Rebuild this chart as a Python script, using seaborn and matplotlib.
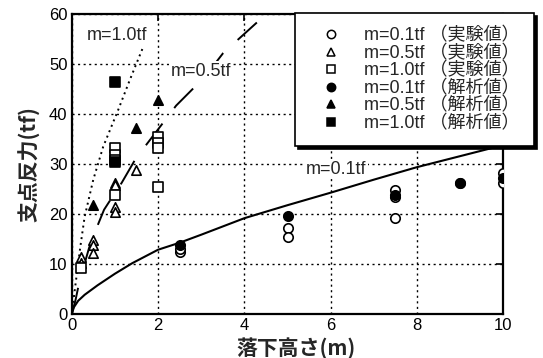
import matplotlib
matplotlib.use("Agg")
import matplotlib.pyplot as plt
from matplotlib.lines import Line2D
import seaborn as sns
import pandas as pd

# ---- data ----
# calculation curves (drop height h [m] -> support reaction P [tf])
curve01_h = [0, 0.05, 0.15, 0.3, 0.6, 1.0, 1.4, 2.0, 2.5, 3.0, 4.0, 5.0, 6.0, 7.0, 8.0, 9.0, 10.0]
curve01_p = [0, 1.4, 2.7, 3.9, 5.8, 8.1, 10.2, 12.9, 14.3, 15.9, 19.2, 21.8, 24.3, 26.9, 29.4, 31.6, 33.8]
curve05_h = [0, 0.09, 0.17, 0.4, 0.56, 0.75, 0.9, 1.16, 1.49, 2.05, 2.42, 3.09, 3.51, 4.29]
curve05_p = [0, 2.9, 6.2, 13.2, 16.9, 20.9, 22.9, 26.3, 31.2, 37.5, 41.7, 47.5, 52.2, 58.3]
curve10_h = [0, 0.1, 0.2, 0.3, 0.5, 0.73, 1.08, 1.35, 1.66]
curve10_p = [0, 6.8, 13.5, 19.5, 26.9, 33.5, 40.9, 46.9, 53.5]

# experimental values
exp01_h = [2.5, 2.5, 5.0, 5.0, 7.5, 7.5, 7.5, 9.0, 10.0, 10.0]
exp01_p = [12.5, 13.1, 17.2, 15.5, 24.9, 23.5, 19.2, 26.3, 28.2, 26.2]
exp05_h = [0.22, 0.22, 0.5, 0.5, 0.5, 1.0, 1.0, 1.0, 1.0, 1.5]
exp05_p = [11.5, 10.2, 14.9, 13.9, 12.2, 26.2, 21.5, 20.5, 25.9, 28.9]
exp10_h = [0.22, 1.0, 1.0, 1.0, 1.0, 2.0, 2.0, 2.0, 2.0]
exp10_p = [9.3, 33.2, 31.9, 30.9, 23.9, 35.5, 34.2, 33.2, 25.5]
# analytical values
ana01_h = [2.5, 5.0, 7.5, 9.0, 10.0]
ana01_p = [13.9, 19.6, 23.9, 26.3, 27.3]
ana05_h = [0.5, 1.5, 2.0]
ana05_p = [21.9, 37.2, 42.9]
ana10_h = [1.0, 1.0]
ana10_p = [46.5, 30.5]

legend_labels = [
    "m=0.1tf （実験値）", "m=0.5tf （実験値）", "m=1.0tf （実験値）",
    "m=0.1tf （解析値）", "m=0.5tf （解析値）", "m=1.0tf （解析値）",
]
curve_labels = ["m=0.1tf", "m=0.5tf", "m=1.0tf"]
x_ticks = [0, 2, 4, 6, 8, 10]
y_ticks = [0, 10, 20, 30, 40, 50, 60]
x_label = "落下高さ(m)"
y_label = "支点反力(tf)"

sns.set_theme(style="white")
plt.rcParams['font.family'] = ['Liberation Sans', 'Noto Sans CJK JP', 'DejaVu Sans']

fig = plt.figure(figsize=(5.43, 3.58), dpi=100)
ax = fig.add_axes([71.7 / 543, 1 - 314.3 / 358, (503.3 - 71.7) / 543, (314.3 - 14) / 358])

# curves
sns.lineplot(x=curve01_h, y=curve01_p, ax=ax, color="black", lw=1.5, sort=False,
             legend=False, zorder=3)
sns.lineplot(x=curve05_h, y=curve05_p, ax=ax, color="black", lw=1.4, sort=False,
             legend=False, zorder=3)
ax.lines[-1].set_dashes((14, 10))
sns.lineplot(x=curve10_h, y=curve10_p, ax=ax, color="black", lw=1.4, sort=False,
             legend=False, zorder=3)
ax.lines[-1].set_linestyle((0, (1, 2)))

ms = 46
ew = 1.2
series = [
    (exp01_h, exp01_p, "o", "white"),
    (exp05_h, exp05_p, "^", "white"),
    (exp10_h, exp10_p, "s", "white"),
    (ana01_h, ana01_p, "o", "black"),
    (ana05_h, ana05_p, "^", "black"),
    (ana10_h, ana10_p, "s", "black"),
]
handles = []
for (hx, py, mk, fc), lab in zip(series, legend_labels):
    sns.scatterplot(x=hx, y=py, ax=ax, marker=mk, s=ms, facecolor=fc,
                    edgecolor="black", linewidth=ew, zorder=4, legend=False)
    handles.append(Line2D([], [], ls="none", marker=mk, markersize=6,
                          markerfacecolor=fc, markeredgecolor="black",
                          markeredgewidth=1.1, label=lab))

ax.set_xlim(0, 10)
ax.set_ylim(0, 60)
ax.set_xticks(x_ticks)
ax.set_yticks(y_ticks)
ax.tick_params(direction="in", length=5, width=1.2, top=True, right=True,
               labelsize=12, colors="black", pad=3)
for lab in ax.get_xticklabels() + ax.get_yticklabels():
    lab.set_family(['Liberation Sans', 'DejaVu Sans'])
ax.grid(True, color="black", linestyle=(0, (1.5, 2.5)), linewidth=1.0)
for sp in ax.spines.values():
    sp.set_color("black")
    sp.set_linewidth(1.6)

cjk = ['Noto Sans CJK JP', 'DejaVu Sans']
ax.set_xlabel(x_label, fontsize=15, fontweight="bold", family=cjk, labelpad=0)
ax.xaxis.set_label_coords(0.52, -0.075)
ax.set_ylabel(y_label, fontsize=15, fontweight="bold", family=cjk, labelpad=6)

# curve labels
lab_kw = dict(fontsize=13, family=['Liberation Sans', 'DejaVu Sans'], ha="center",
              va="center", zorder=5,
              bbox=dict(facecolor="white", edgecolor="none", pad=1))
ax.text(1.05, 55.8, curve_labels[2], **lab_kw)
ax.text(3.0, 48.6, curve_labels[1], **lab_kw)
ax.text(6.12, 29.0, curve_labels[0], **lab_kw)

leg = ax.legend(handles=handles, loc="upper left",
                bbox_to_anchor=(295 / 543, 1 - 13 / 358), bbox_transform=fig.transFigure,
                prop={'family': ['Liberation Sans', 'Noto Sans CJK JP'], 'size': 13},
                frameon=True, fancybox=False, shadow={'color': 'black', 'alpha': 1},
                borderpad=0.78, labelspacing=0.02, handlelength=2.45,
                handletextpad=0.6, borderaxespad=0)
leg.get_frame().set_edgecolor("black")
leg.get_frame().set_linewidth(1.2)
leg.set_zorder(10)

fig.savefig("out.png", dpi=100)
